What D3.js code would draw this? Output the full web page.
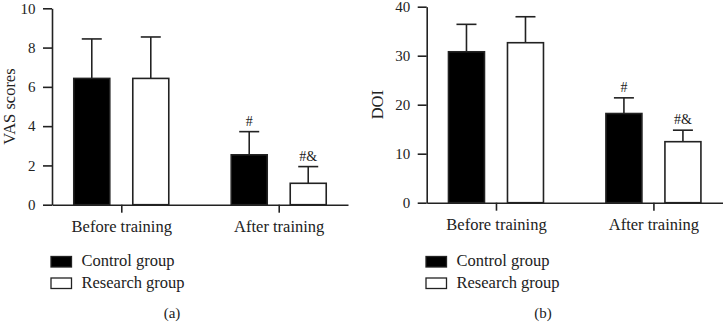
<!DOCTYPE html>
<html>
<head>
<meta charset="utf-8">
<script src="https://cdn.jsdelivr.net/npm/d3@7"></script>
<style>
  body { margin: 0; background: #fff; }
  svg { display: block; font-family: "Liberation Serif", "Times New Roman", serif; }
</style>
</head>
<body>
<div id="chart"></div>
<script>
var categories = ["Before training", "After training"];
var groups = ["Control group", "Research group"];

// panel (a) VAS scores
var vasControl = [6.43, 2.54];
var vasControlErr = [2.01, 1.18];
var vasResearch = [6.43, 1.09];
var vasResearchErr = [2.11, 0.85];
var vasControlMarks = ["", "#"];
var vasResearchMarks = ["", "#&"];
var vasTicks = [0, 2, 4, 6, 8, 10];

// panel (b) DOI
var doiControl = [30.8, 18.2];
var doiControlErr = [5.6, 3.2];
var doiResearch = [32.65, 12.45];
var doiResearchErr = [5.3, 2.35];
var doiControlMarks = ["", "#"];
var doiResearchMarks = ["", "#&"];
var doiTicks = [0, 10, 20, 30, 40];

var width = 723, height = 322;
var ink = "#222";

var svg = d3.select("#chart").append("svg")
	.attr("width", width)
	.attr("height", height);

function panel(opt) {
	var g = svg.append("g");

	var x = d3.scalePoint().domain(categories).range([opt.x0, opt.x1]).padding(0.44);
	var sub = d3.scaleBand().domain(groups).range([-47.5, 47.5]).paddingInner(0.39);
	var y = d3.scaleLinear().domain([0, opt.max]).range([opt.y0, opt.y1]);

	var rows = [];
	categories.forEach(function (c, i) {
		rows.push({ cat: c, group: groups[0], v: opt.control[i], e: opt.controlErr[i], mark: opt.controlMarks[i] });
		rows.push({ cat: c, group: groups[1], v: opt.research[i], e: opt.researchErr[i], mark: opt.researchMarks[i] });
	});

	function cx(d) { return x(d.cat) + sub(d.group) + sub.bandwidth() / 2; }

	// error bars (upper only)
	var err = g.selectAll(".err").data(rows).enter().append("g").attr("class", "err");
	err.append("line")
		.attr("x1", cx).attr("x2", cx)
		.attr("y1", function (d) { return y(d.v); })
		.attr("y2", function (d) { return y(d.v + d.e); })
		.attr("stroke", ink).attr("stroke-width", 1.6);
	err.append("line")
		.attr("x1", function (d) { return cx(d) - 10; })
		.attr("x2", function (d) { return cx(d) + 10; })
		.attr("y1", function (d) { return y(d.v + d.e); })
		.attr("y2", function (d) { return y(d.v + d.e); })
		.attr("stroke", ink).attr("stroke-width", 1.6);

	g.selectAll(".bar").data(rows).enter().append("rect")
		.attr("class", "bar")
		.attr("x", function (d) { return x(d.cat) + sub(d.group); })
		.attr("y", function (d) { return y(d.v); })
		.attr("width", sub.bandwidth())
		.attr("height", function (d) { return y(0) - y(d.v); })
		.attr("fill", function (d) { return d.group == groups[0] ? "#000" : "#fff"; })
		.attr("stroke", ink)
		.attr("stroke-width", 1.6);

	g.selectAll(".mark").data(rows.filter(function (d) { return d.mark; })).enter().append("text")
		.attr("class", "mark")
		.attr("x", cx)
		.attr("y", function (d) { return y(d.v + d.e) - 6; })
		.attr("text-anchor", "middle")
		.style("font-size", "14px")
		.style("fill", ink)
		.text(function (d) { return d.mark; });

	// axes
	var yAxis = g.append("g")
		.attr("transform", "translate(" + opt.x0 + ",0)")
		.call(d3.axisLeft(y).tickValues(opt.ticks).tickSize(9).tickSizeOuter(0).tickPadding(7.5))
		.attr("font-family", null);
	yAxis.selectAll("text").style("font-size", "15px").style("fill", ink);

	var xAxis = g.append("g")
		.attr("transform", "translate(0," + opt.y0 + ")")
		.call(d3.axisBottom(x).tickSize(8).tickSizeOuter(0).tickPadding(7.5))
		.attr("font-family", null);
	xAxis.selectAll("text").style("font-size", "16.5px").style("fill", ink);

	g.selectAll(".domain, .tick line").attr("stroke", ink).attr("stroke-width", 1.6);

	g.append("text")
		.attr("transform", "translate(" + opt.labelX + "," + ((opt.y0 + opt.y1) / 2) + ") rotate(-90)")
		.attr("text-anchor", "middle")
		.attr("dy", "0.35em")
		.style("font-size", "16.5px")
		.style("fill", ink)
		.text(opt.label);

	// legend
	var leg = g.selectAll(".leg").data(groups).enter().append("g")
		.attr("class", "leg")
		.attr("transform", function (d, i) { return "translate(" + opt.legX + "," + (256.5 + i * 21.5) + ")"; });
	leg.append("rect")
		.attr("width", 20.5).attr("height", 10.5)
		.attr("fill", function (d, i) { return i == 0 ? "#000" : "#fff"; })
		.attr("stroke", ink).attr("stroke-width", 1.3);
	leg.append("text")
		.attr("x", 30.5).attr("y", 9.5)
		.style("font-size", "16.5px")
		.style("fill", ink)
		.text(function (d) { return d; });

	g.append("text")
		.attr("x", opt.capX).attr("y", 318)
		.attr("text-anchor", "middle")
		.style("font-size", "15px")
		.style("fill", ink)
		.text(opt.caption);
}

panel({
	x0: 52, x1: 348, y0: 204.7, y1: 8.3, max: 10, ticks: vasTicks,
	control: vasControl, controlErr: vasControlErr, controlMarks: vasControlMarks,
	research: vasResearch, researchErr: vasResearchErr, researchMarks: vasResearchMarks,
	label: "VAS scores", labelX: 9, legX: 51, capX: 172, caption: "(a)"
});

panel({
	x0: 426.7, x1: 722.7, y0: 202.7, y1: 6.7, max: 40, ticks: doiTicks,
	control: doiControl, controlErr: doiControlErr, controlMarks: doiControlMarks,
	research: doiResearch, researchErr: doiResearchErr, researchMarks: doiResearchMarks,
	label: "DOI", labelX: 377, legX: 426, capX: 543, caption: "(b)"
});
</script>
</body>
</html>
